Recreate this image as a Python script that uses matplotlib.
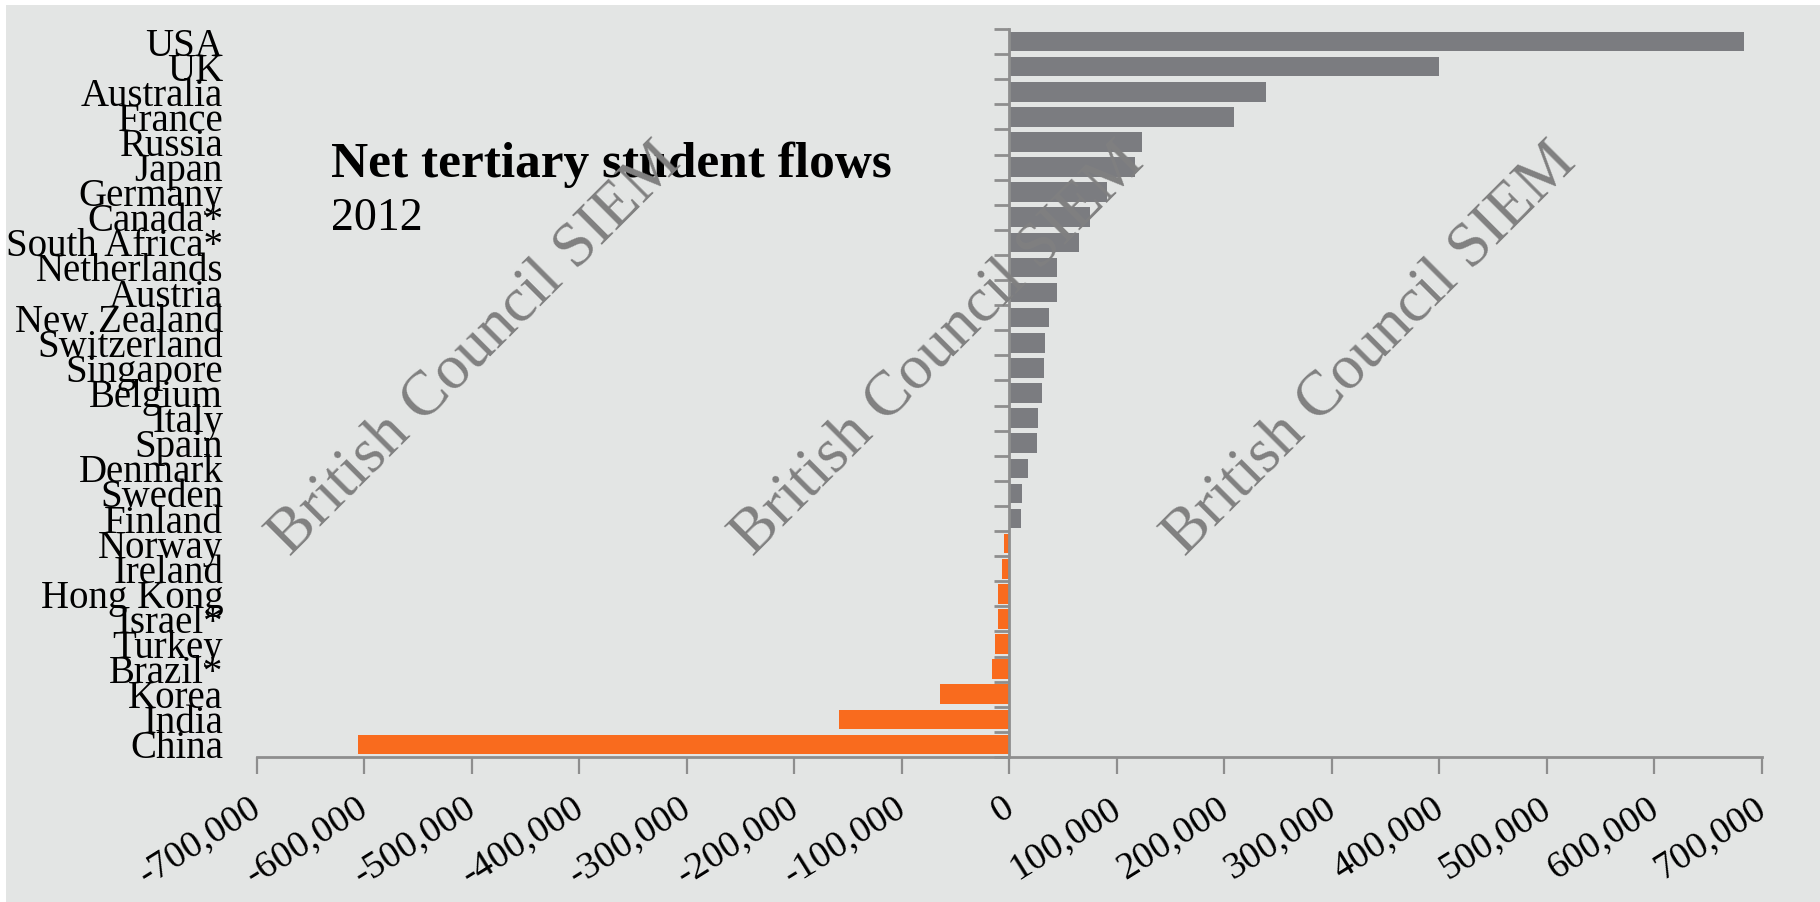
import matplotlib
matplotlib.use("Agg")
import matplotlib.pyplot as plt
from matplotlib.patches import Rectangle
from matplotlib.transforms import ScaledTranslation

# Net tertiary student flows, 2012 (inbound minus outbound students)
countries = ["USA", "UK", "Australia", "France", "Russia", "Japan", "Germany",
             "Canada*", "South Africa*", "Netherlands", "Austria", "New Zealand",
             "Switzerland", "Singapore", "Belgium", "Italy", "Spain", "Denmark",
             "Sweden", "Finland", "Norway", "Ireland", "Hong Kong", "Israel*",
             "Turkey", "Brazil*", "Korea", "India", "China"]
net_flows = [683000, 400000, 239000, 209000, 123000, 117000, 91000,
             75000, 65000, 44000, 44000, 36500,
             33000, 32000, 30000, 27000, 26000, 17000,
             11500, 10500, -5000, -7000, -10000, -10000,
             -13000, -16000, -64500, -158500, -605500]
x_ticks = list(range(-700000, 700001, 100000))
x_tick_labels = [f"{v:,}" for v in x_ticks]

title = "Net tertiary student flows"
subtitle = "2012"
watermark = "British Council SIEM"

BG = "#E3E5E4"
GREY_BAR = "#7B7C80"
ORANGE = "#F96B1E"
AXIS = "#8E8E8E"
SERIF = "Liberation Serif"

W, H = 1820, 902
fig = plt.figure(figsize=(W / 100, H / 100), dpi=100)
fig.patch.set_facecolor("white")
fig.patches.append(Rectangle((6 / W, 0), 1, 1 - 5 / H, transform=fig.transFigure,
                             facecolor=BG, edgecolor="none", zorder=-10))

rect = [256.5 / W, 1 - 757 / H, (1762 - 256.5) / W, (757 - 29) / H]
ax = fig.add_axes(rect)
ax.set_facecolor("none")

n = len(countries)
ypos = list(range(n - 1, -1, -1))
colors = [GREY_BAR if v >= 0 else ORANGE for v in net_flows]
ax.barh(ypos, net_flows, height=0.78, color=colors, zorder=2)

ax.set_xlim(-700000, 700000)
ax.set_ylim(-0.5, n - 0.5)

for s in ("top", "right", "left"):
    ax.spines[s].set_visible(False)
ax.spines["bottom"].set_color(AXIS)
ax.spines["bottom"].set_linewidth(2)

ax.set_xticks(x_ticks)
ax.set_xticklabels(x_tick_labels, rotation=32, ha="right", va="top",
                   rotation_mode="anchor", fontsize=27.5, family=SERIF)
ax.tick_params(axis="x", length=12, width=1.6, color=AXIS, pad=12)
shift = ScaledTranslation(-8 / 100, 0, fig.dpi_scale_trans)
for lab in ax.get_xticklabels():
    lab.set_transform(lab.get_transform() + shift)

ax.set_yticks(ypos)
ax.set_yticklabels(countries, fontsize=28, family=SERIF)
ax.tick_params(axis="y", length=0, pad=24)
for lab in ax.get_yticklabels():
    lab.set_verticalalignment("center_baseline")

# category axis through zero, ticks between categories
zax = fig.add_axes(rect)
zax.set_xlim(ax.get_xlim())
zax.set_ylim(ax.get_ylim())
zax.patch.set_visible(False)
for s in ("top", "right", "bottom"):
    zax.spines[s].set_visible(False)
zax.spines["left"].set_position(("data", 0))
zax.spines["left"].set_color(AXIS)
zax.spines["left"].set_linewidth(2)
zax.xaxis.set_visible(False)
zax.set_yticks([i + 0.5 for i in range(-1, n)])
zax.tick_params(axis="y", which="both", direction="out", length=11, width=2,
                color=AXIS, labelleft=False, left=True, right=False)

fig.text(331 / W, 1 - 177 / H, title, fontsize=37, fontweight="bold",
         family=SERIF, va="baseline", ha="left")
fig.text(331 / W, 1 - 230 / H, subtitle, fontsize=33, family=SERIF,
         va="baseline", ha="left")

for cx in (475, 938, 1370):
    fig.text(cx / W, 1 - 350 / H, watermark, fontsize=45.5, family=SERIF,
             color="#808080", rotation=45, rotation_mode="anchor",
             ha="center", va="center", zorder=10)

fig.savefig("out.png", dpi=100, facecolor=fig.get_facecolor())
